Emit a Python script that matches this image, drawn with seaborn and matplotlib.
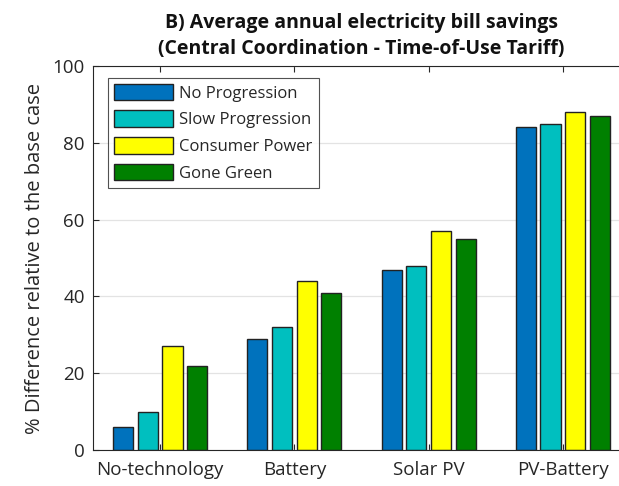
import matplotlib
matplotlib.use("Agg")
import matplotlib.pyplot as plt
import seaborn as sns
import pandas as pd

categories = ["No-technology", "Battery", "Solar PV", "PV-Battery"]
scenarios = ["No Progression", "Slow Progression", "Consumer Power", "Gone Green"]
no_progression = [6, 29, 47, 84]
slow_progression = [10, 32, 48, 85]
consumer_power = [27, 44, 57, 88]
gone_green = [22, 41, 55, 87]
colors = ["#0072BD", "#00BFBF", "#FFFF00", "#008000"]

rows = []
for scen, vals in zip(scenarios, [no_progression, slow_progression, consumer_power, gone_green]):
    for cat, v in zip(categories, vals):
        rows.append({"cat": cat, "scenario": scen, "value": v})
df = pd.DataFrame(rows)

sns.set_theme(style="white")
plt.rcParams['font.family'] = ['Open Sans', 'DejaVu Sans']

fig = plt.figure(figsize=(6.19, 4.86), dpi=100)
ax = fig.add_axes([93/619, 36/486, 537/619, 384/486])

sns.barplot(data=df, x="cat", y="value", hue="scenario", order=categories,
            hue_order=scenarios, palette=colors, width=0.735, gap=0.18,
            edgecolor="#222222", linewidth=1.0, ax=ax, saturation=1)

ax.set_xlim(-0.5, 3.5)
ax.set_ylim(0, 100)
ax.set_yticks([0, 20, 40, 60, 80, 100])
ax.yaxis.grid(True, color="#e3e3e3", linewidth=0.9)
ax.set_axisbelow(True)
ax.set_xlabel("")
ax.set_ylabel("% Difference relative to the base case", fontsize=14.5, color="#262626", labelpad=5)
ax.tick_params(axis="both", direction="in", labelsize=13.5, colors="#262626",
               length=4, width=0.8, top=True, right=True, bottom=True, left=True)
ax.tick_params(axis="x", pad=8)
ax.tick_params(axis="y", pad=6)
for s in ax.spines.values():
    s.set_color("#262626")
    s.set_linewidth(0.8)

ax.set_title("B) Average annual electricity bill savings\n(Central Coordination - Time-of-Use Tariff)",
             fontsize=14, fontweight="bold", color="#111111", pad=9, linespacing=1.4)

leg = ax.legend(loc="upper left", bbox_to_anchor=(0.028, 0.97), fontsize=12,
                frameon=True, fancybox=False, edgecolor="#262626", handlelength=3.5,
                handleheight=1.15, labelspacing=0.52, borderpad=0.38, handletextpad=0.4,
                borderaxespad=0)
leg.get_frame().set_linewidth(0.8)
for t in leg.get_texts():
    t.set_color("#262626")

fig.savefig("out.png", dpi=100)
